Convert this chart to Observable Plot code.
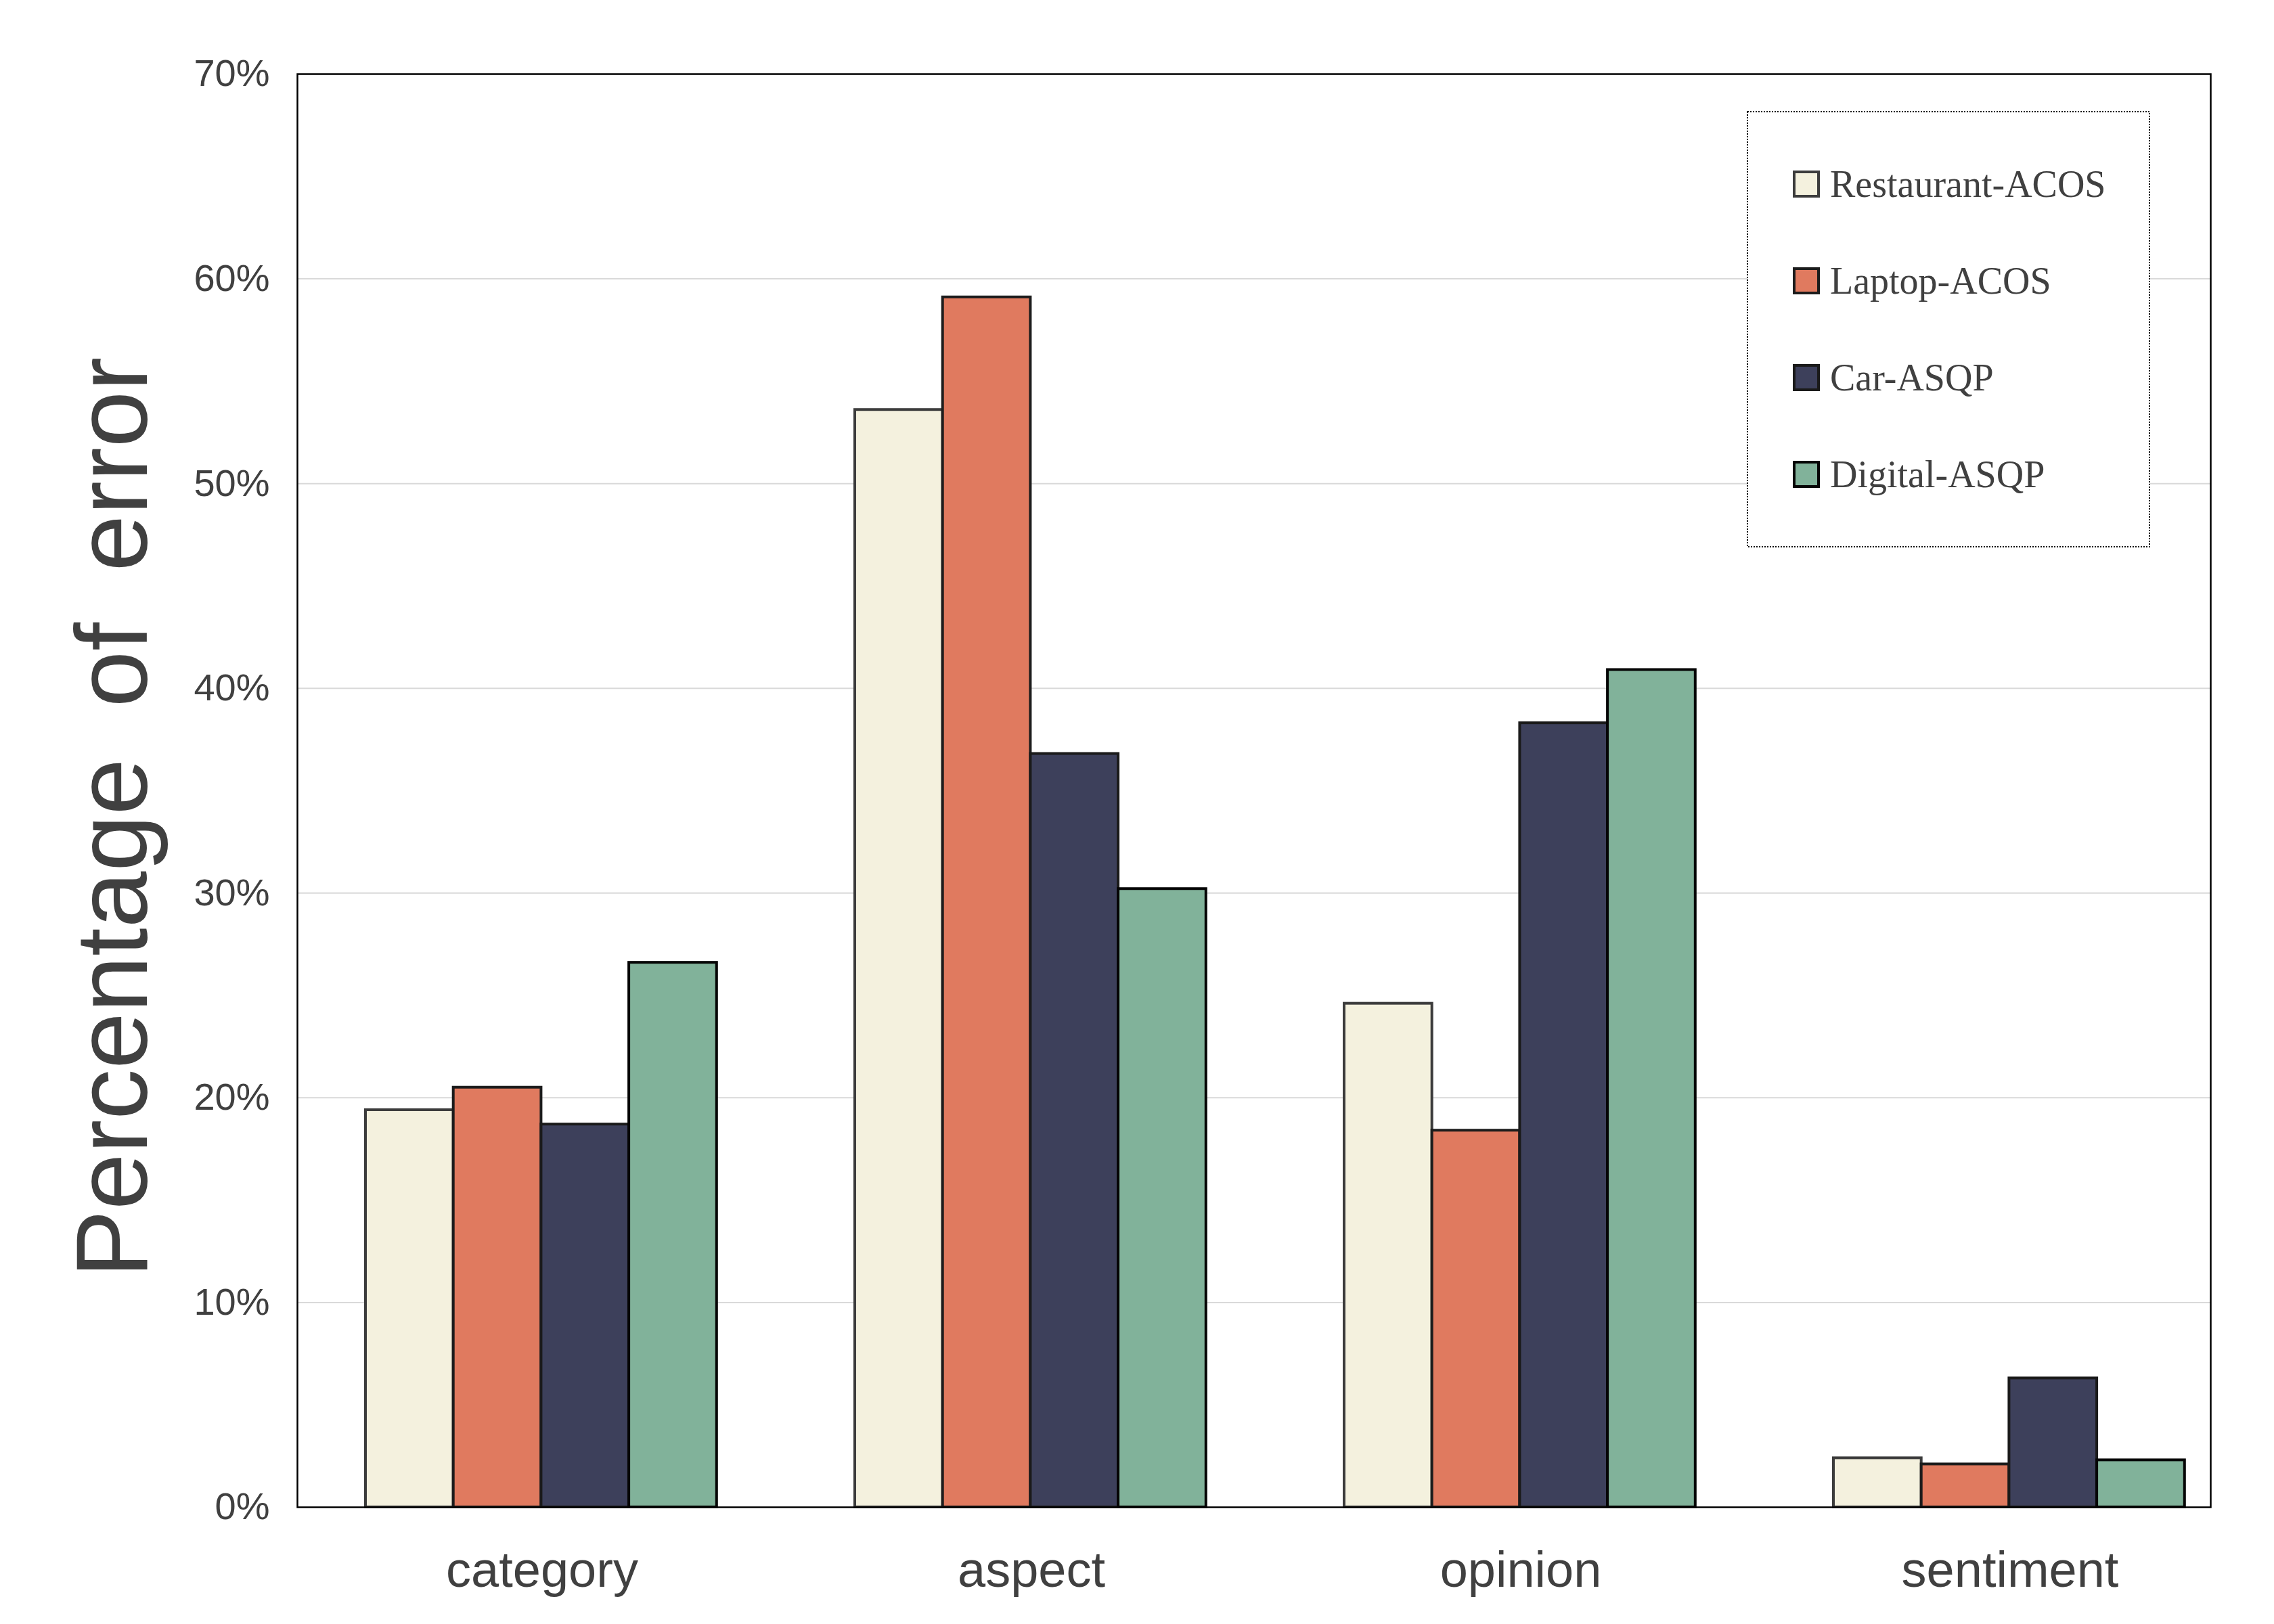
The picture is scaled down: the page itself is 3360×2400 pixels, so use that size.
<!DOCTYPE html>
<html>
<head>
<meta charset="utf-8">
<script src="https://cdn.jsdelivr.net/npm/d3@7"></script>
<script src="https://cdn.jsdelivr.net/npm/@observablehq/plot@0.6"></script>
<style>
  html, body { margin: 0; padding: 0; background: #ffffff; }
</style>
</head>
<body>
<div id="chart"></div>
<script>
// ---- data ----
const categories = ["category", "aspect", "opinion", "sentiment"];
const series = ["Restaurant-ACOS", "Laptop-ACOS", "Car-ASQP", "Digital-ASQP"];
const restaurantValues = [19.4, 53.6, 24.6, 2.4];
const laptopValues = [20.5, 59.1, 18.4, 2.1];
const carValues = [18.7, 36.8, 38.3, 6.3];
const digitalValues = [26.6, 30.2, 40.9, 2.3];
const yTicks = [0, 10, 20, 30, 40, 50, 60, 70];
const yLabel = "Percentage of error";

const seriesValues = [restaurantValues, laptopValues, carValues, digitalValues];
const rows = [];
series.forEach((s, k) => categories.forEach((c, i) => rows.push({ series: s, category: c, value: seriesValues[k][i] })));

// ---- styles ----
const fills = ["#F4F1DE", "#E07A5F", "#3D405B", "#81B29A"];
const strokes = ["#3c3c3c", "#1c1c1c", "#1a1a1a", "#050505"];
const textColor = "#404040";
const sans = "'Liberation Sans', Arial, Helvetica, sans-serif";
const serif = "'Liberation Serif', 'Times New Roman', serif";

// ---- layout ----
const W = 3360, H = 2400;
const mLeft = 439, mRight = W - 3266, mTop = 109, mBottom = H - 2227;
const step = 723;                   // width of one category band
const groupOff = 101;               // offset of the first bar inside a band
const barW = 129.7;                 // width of one bar

function yLabelMark(index, scales, values, dims) {
  const cy = (dims.marginTop + dims.height - dims.marginBottom) / 2 + 40;
  const g = d3.create("svg:g");
  g.append("text")
    .attr("transform", `translate(169,${cy}) rotate(-90)`)
    .attr("text-anchor", "middle")
    .attr("dy", "0.32em")
    .attr("font-family", sans)
    .attr("font-size", 150)
    .attr("fill", textColor)
    .style("word-spacing", "34px")
    .text(yLabel);
  return g.node();
}

function legendMark() {
  const g = d3.create("svg:g");
  g.append("rect")
    .attr("x", 2582).attr("y", 165).attr("width", 594).attr("height", 643)
    .attr("fill", "#ffffff").attr("stroke", "#000000")
    .attr("stroke-width", 2).attr("stroke-dasharray", "2,2");
  series.forEach((s, k) => {
    const cy = 272 + k * 143;
    g.append("rect")
      .attr("x", 2651).attr("y", cy - 18).attr("width", 36).attr("height", 36)
      .attr("fill", fills[k]).attr("stroke", strokes[k]).attr("stroke-width", 4);
    g.append("text")
      .attr("x", 2704).attr("y", cy).attr("dy", "0.34em")
      .attr("text-anchor", "start")
      .attr("font-family", serif).attr("font-size", 56)
      .attr("fill", textColor).text(s);
  });
  return g.node();
}

const chart = Plot.plot({
  width: W,
  height: H,
  marginLeft: mLeft,
  marginRight: mRight,
  marginTop: mTop,
  marginBottom: mBottom,
  style: { fontFamily: sans, background: "#ffffff", overflow: "visible" },
  x: { type: "band", domain: categories, range: [mLeft, mLeft + 4 * step], padding: 0, axis: null },
  y: { domain: [0, 70], axis: null },
  marks: [
    Plot.ruleY(yTicks.filter(t => t > 0 && t < 70), { stroke: "#d9d9d9", strokeWidth: 2 }),
    ...series.map((s, k) => Plot.barY(rows.filter(r => r.series === s), {
      x: "category",
      y: "value",
      fill: fills[k],
      stroke: strokes[k],
      strokeWidth: 4,
      insetLeft: groupOff + k * barW,
      insetRight: step - groupOff - (k + 1) * barW
    })),
    Plot.frame({ stroke: "#000000", strokeWidth: 2.5 }),
    Plot.axisY({
      ticks: yTicks, tickFormat: d => d + "%", tickSize: 0, tickPadding: 41,
      fontSize: 56, color: textColor, label: null
    }),
    Plot.axisX({
      tickSize: 0, tickPadding: 65, fontSize: 74, color: textColor, label: null
    }),
    yLabelMark,
    legendMark
  ]
});

document.getElementById("chart").appendChild(chart);
</script>
</body>
</html>
